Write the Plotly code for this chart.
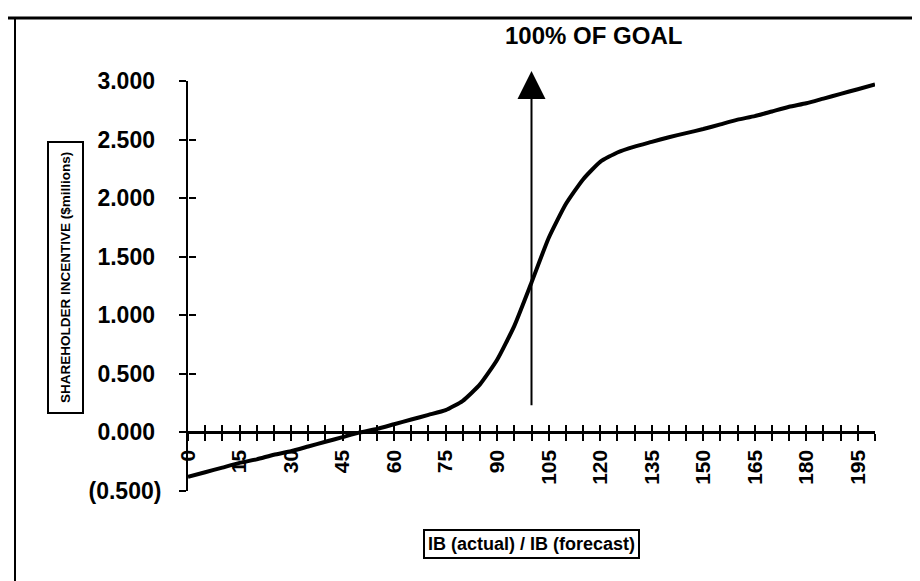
import plotly.graph_objects as go

# ---- data ----
ratio_pct = list(range(0, 201, 5))
incentive = [-0.38, -0.34, -0.30, -0.26, -0.23, -0.19, -0.16, -0.12, -0.08, -0.04,
             0.00, 0.03, 0.07, 0.11, 0.15, 0.19, 0.27, 0.41, 0.62, 0.91,
             1.28, 1.66, 1.95, 2.16, 2.31, 2.39, 2.44, 2.48, 2.52, 2.555,
             2.59, 2.63, 2.67, 2.70, 2.74, 2.78, 2.81, 2.85, 2.89, 2.93, 2.97]

x_tick_vals = list(range(0, 201, 5))
x_tick_text = [str(v) if (v % 15 == 0 and v < 200) else "" for v in x_tick_vals]
y_tick_vals = [-0.5, 0.0, 0.5, 1.0, 1.5, 2.0, 2.5, 3.0]
y_tick_text = ["(0.500)", "0.000\u00a0", "0.500\u00a0", "1.000\u00a0", "1.500\u00a0",
               "2.000\u00a0", "2.500\u00a0", "3.000\u00a0"]
goal_x = 100
title_text = "100% OF GOAL"
y_title = "SHAREHOLDER INCENTIVE ($millions)"
x_title = "IB (actual) / IB (forecast)"

X_RANGE = [0, 200]
Y_RANGE = [-0.5, 3.0]

W, H = 920, 581
ML, MR, MT, MB = 180, 53, 73, 98
PW = W - ML - MR
PH = H - MT - MB


def px_x(px):
    return (px - ML) / PW


def px_y(py):
    return (H - MB - py) / PH


zero_pos = (0 - Y_RANGE[0]) / (Y_RANGE[1] - Y_RANGE[0])

FONT = "Liberation Sans, Arial, sans-serif"

fig = go.Figure()
fig.add_trace(go.Scatter(
    x=ratio_pct, y=incentive, mode="lines",
    line=dict(color="black", width=4, shape="spline", smoothing=0.5),
    showlegend=False, hoverinfo="x+y"))
# helper trace so the overlay axes (inner halves of crossing ticks) are drawn
fig.add_trace(go.Scatter(
    x=ratio_pct, y=incentive, mode="lines", opacity=0,
    xaxis="x2", yaxis="y2", showlegend=False, hoverinfo="skip"))

fig.update_layout(
    width=W, height=H, autosize=False,
    margin=dict(l=ML, r=MR, t=MT, b=MB, pad=0),
    paper_bgcolor="white", plot_bgcolor="white",
    font=dict(family=FONT, color="black"),
    xaxis=dict(range=X_RANGE, anchor="free", position=zero_pos,
               showline=True, linecolor="black", linewidth=3,
               ticks="outside", ticklen=7, tickwidth=2, tickcolor="black",
               tickmode="array", tickvals=x_tick_vals, ticktext=x_tick_text,
               tickangle=-90, tickfont=dict(size=21, family=FONT, weight="bold"),
               showgrid=False, zeroline=False, fixedrange=True),
    xaxis2=dict(range=X_RANGE, overlaying="x", anchor="free", position=zero_pos,
                showline=False, ticks="inside", ticklen=7, tickwidth=2,
                tickcolor="black", tickmode="array", tickvals=x_tick_vals,
                showticklabels=False, showgrid=False, zeroline=False),
    yaxis=dict(range=Y_RANGE, showline=True, linecolor="black", linewidth=2,
               ticks="outside", ticklen=7, tickwidth=2, tickcolor="black",
               tickmode="array", tickvals=y_tick_vals, ticktext=y_tick_text,
               ticklabelstandoff=13,
               tickfont=dict(size=23, family=FONT, weight="bold"),
               showgrid=False, zeroline=False, fixedrange=True),
    yaxis2=dict(range=Y_RANGE, overlaying="y", anchor="free", position=0,
                side="left", showline=False, ticks="inside", ticklen=7,
                tickwidth=2, tickcolor="black", tickmode="array",
                tickvals=y_tick_vals, showticklabels=False,
                showgrid=False, zeroline=False),
)

# goal arrow
fig.add_annotation(
    x=goal_x, y=3.085, ax=goal_x, ay=0.22, xref="x", yref="y",
    axref="x", ayref="y", text="", showarrow=True,
    arrowhead=2, arrowsize=2.8, arrowwidth=2, arrowcolor="black",
    standoff=0, startstandoff=0)

# title
fig.add_annotation(
    x=px_x(585), y=px_y(28), xref="paper", yref="paper",
    text=title_text, showarrow=False, xanchor="center", yanchor="middle",
    font=dict(size=24, family=FONT, weight="bold"))

# y-axis title (boxed)
fig.add_annotation(
    x=px_x(57), y=px_y(270), xref="paper", yref="paper",
    text=y_title, textangle=-90, showarrow=False,
    xanchor="center", yanchor="middle",
    font=dict(size=13.5, family=FONT, weight="bold"),
    bordercolor="black", borderwidth=2, borderpad=9, bgcolor="white")

# x-axis title (boxed)
fig.add_annotation(
    x=px_x(523), y=px_y(536), xref="paper", yref="paper",
    text=x_title, showarrow=False, xanchor="center", yanchor="middle",
    font=dict(size=18, family=FONT, weight="bold"),
    bordercolor="black", borderwidth=2, borderpad=3, bgcolor="white")

# outer frame (top and left edges visible in the scan)
fig.add_shape(type="line", xref="paper", yref="paper",
              x0=px_x(0), x1=px_x(W), y0=px_y(10), y1=px_y(10),
              line=dict(color="black", width=3))
fig.add_shape(type="line", xref="paper", yref="paper",
              x0=px_x(7), x1=px_x(7), y0=px_y(10), y1=px_y(H),
              line=dict(color="black", width=2))

fig.write_html("out.html")
